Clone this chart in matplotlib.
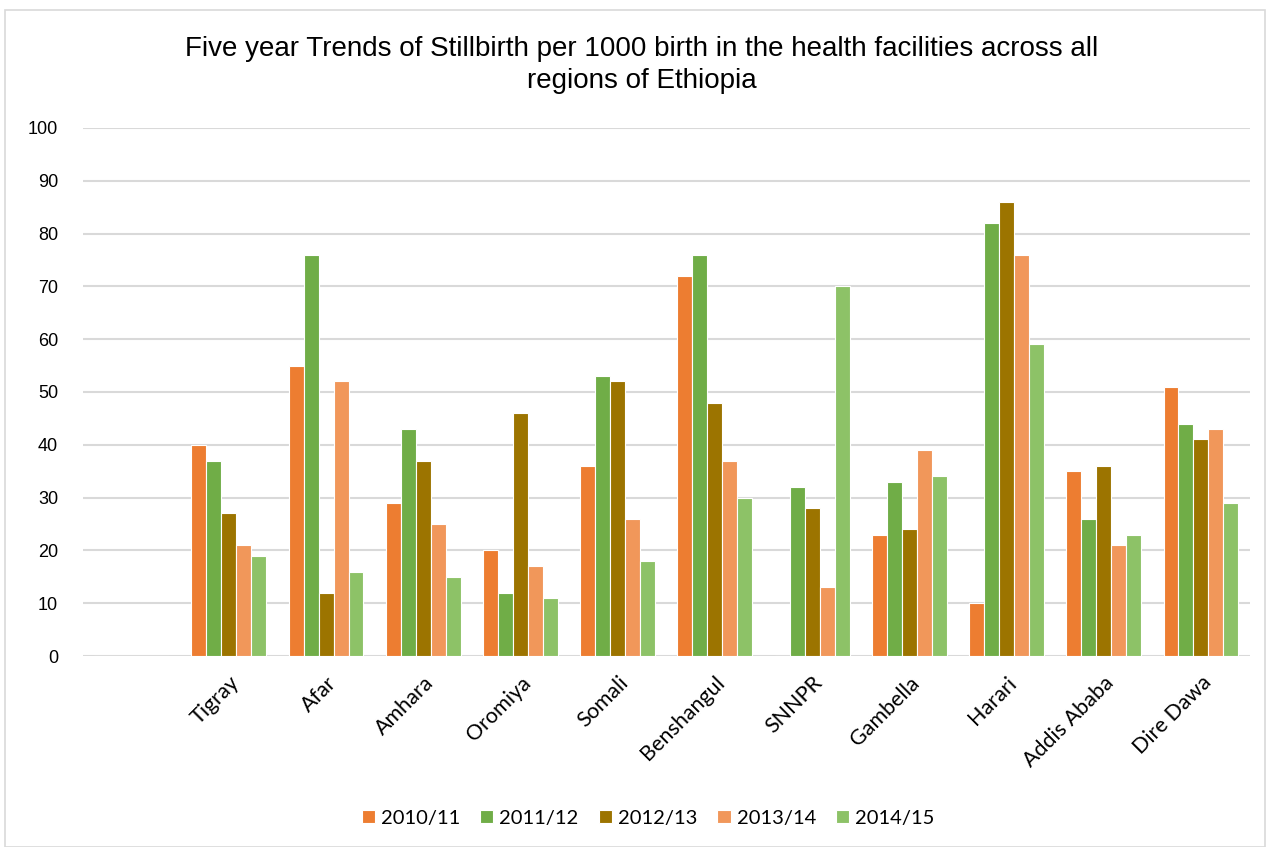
import numpy as np
import matplotlib
matplotlib.use('Agg')
import matplotlib.pyplot as plt
from matplotlib.patches import Rectangle

# regions (first slot is an empty category, as in the original chart)
regions = ["", "Tigray", "Afar", "Amhara", "Oromiya", "Somali", "Benshangul",
           "SNNPR", "Gambella", "Harari", "Addis Ababa", "Dire Dawa"]
years = ["2010/11", "2011/12", "2012/13", "2013/14", "2014/15"]

y2010 = [0, 40, 55, 29, 20, 36, 72, 0, 23, 10, 35, 51]
y2011 = [0, 37, 76, 43, 12, 53, 76, 32, 33, 82, 26, 44]
y2012 = [0, 27, 12, 37, 46, 52, 48, 28, 24, 86, 36, 41]
y2013 = [0, 21, 52, 25, 17, 26, 37, 13, 39, 76, 21, 43]
y2014 = [0, 19, 16, 15, 11, 18, 30, 70, 34, 59, 23, 29]

colors = ["#ED7D31", "#70AD47", "#9C7400", "#F1975A", "#8DC267"]

fig = plt.figure(figsize=(12.66, 8.47), dpi=100)
ax = fig.add_axes([0.0656, 0.2255, 0.9214, 0.6235])

x = np.arange(len(regions))
w = 0.154
series = [y2010, y2011, y2012, y2013, y2014]
for i, vals in enumerate(series):
    ax.bar(x + (i - 2) * w, vals, width=w, color=colors[i],
           edgecolor="white", linewidth=0.8, label=years[i], zorder=3)

ax.set_xlim(-0.5, len(regions) - 0.5)
ax.set_ylim(0, 100)
ax.set_yticks(range(0, 101, 10))
ax.yaxis.grid(True, color="#D9D9D9", linewidth=1.5, zorder=0)
for s in ax.spines.values():
    s.set_visible(False)
ax.tick_params(axis="both", length=0)
ax.tick_params(axis="y", labelsize=13, pad=18)
for lab in ax.get_yticklabels():
    lab.set_family("Liberation Sans")

ax.set_xticks(x)
ax.set_xticklabels(regions, rotation=45, ha="right", rotation_mode="anchor",
                   fontsize=15.5, family="Lato")
ax.tick_params(axis="x", pad=12)

fig.suptitle("Five year Trends of Stillbirth per 1000 birth in the health facilities across all\nregions of Ethiopia",
             x=0.507, y=0.958, fontsize=20, family="Liberation Sans", linespacing=1.3)

leg = fig.legend(loc="center", bbox_to_anchor=(0.512, 0.034), ncol=5, frameon=False,
                 prop={"family": "Lato", "size": 14.5}, handlelength=0.65,
                 handleheight=0.65, handletextpad=0.3, columnspacing=1.0)

fig.patches.append(Rectangle((0.004, 0.0), 0.995, 0.988, transform=fig.transFigure,
                             fill=False, edgecolor="#D9D9D9", linewidth=1.2))

fig.savefig("out.png", dpi=100)
